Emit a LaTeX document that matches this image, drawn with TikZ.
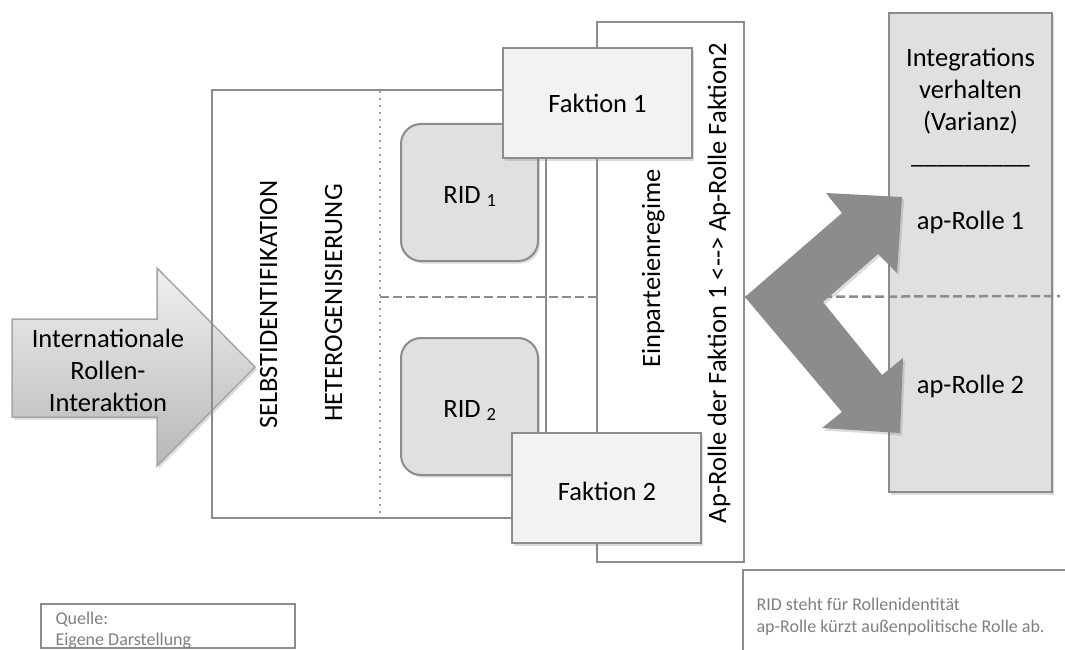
\documentclass[tikz,border=0pt]{standalone}
\usepackage{fontspec}
\setmainfont{Carlito}
\usetikzlibrary{shadows}

\definecolor{edge}{HTML}{8C8C8C}
\definecolor{boxfill}{HTML}{F2F2F2}
\definecolor{ridfill}{HTML}{E0E0E0}
\definecolor{colfill}{HTML}{E0E0E0}
\definecolor{flowgray}{HTML}{8C8C8C}
\definecolor{inedge}{HTML}{A6A6A6}
\definecolor{notegray}{HTML}{7F7F7F}
\definecolor{dotgray}{HTML}{A0A0A0}

\tikzset{
  frame/.style={draw=edge, line width=2pt},
  softshadow/.style={drop shadow={opacity=.28, shadow xshift=2pt, shadow yshift=-2.5pt}},
  fakbox/.style={frame, fill=boxfill, softshadow, minimum width=189pt, minimum height=110pt},
  ridbox/.style={frame, fill=ridfill, rounded corners=20pt, softshadow, minimum width=137pt, minimum height=137pt},
  vlabel/.style={rotate=90, anchor=base},
  hlabel/.style={anchor=base},
  notelabel/.style={anchor=base west, text=notegray, font=\fontsize{18}{22}\selectfont},
  dashline/.style={draw=edge, line width=2.5pt, dash pattern=on 9pt off 4pt},
  dotline/.style={draw=dotgray, line width=2.6pt, dash pattern=on 2.4pt off 4.6pt},
}

\begin{document}
\begin{tikzpicture}[x=1pt, y=-1pt, font=\fontsize{26.5}{32}\selectfont]
\useasboundingbox (0,0) rectangle (1065,650);

% incoming block arrow
\path[draw=inedge, line width=1.5pt, top color=white!94!black, bottom color=white!72!black, softshadow]
  (12,319) -- (157,319) -- (157,268) -- (255,367) -- (157,466) -- (157,417) -- (12,417) -- cycle;
\node[hlabel] (in1) at (108,347) {Internationale};
\node[hlabel] (in2) at (108,379) {Rollen-};
\node[hlabel] (in3) at (108,411) {Interaktion};

% state frame with its two process columns
\node[frame, minimum width=334pt, minimum height=428pt] (state) at (379,304) {};
\draw[dotline] (380,91) -- (380,517);

% regime column
\node[frame, fill=white, minimum width=147pt, minimum height=540pt] (regime) at (670.5,292) {};

% role identities
\node[ridbox] (rid1) at (469.5,192.5) {};
\node[ridbox] (rid2) at (469.5,406.5) {};
\node[hlabel] (rid1t) at (470,203) {RID \textsubscript{1}};
\node[hlabel] (rid2t) at (470,417) {RID \textsubscript{2}};

% factions
\node[fakbox] (fak1) at (597.5,103) {};
\node[fakbox] (fak2) at (606.5,488) {};
\node[hlabel] (fak1t) at (597.5,113) {Faktion 1};
\node[hlabel] (fak2t) at (607,500) {Faktion 2};

\draw[dashline] (380,297) -- (regime.west |- 0,297);

% vertical labels
\node[vlabel] (selbst) at (277,304.5) {SELBSTIDENTIFIKATION};
\node[vlabel] (hetero) at (342,303) {HETEROGENISIERUNG};
\node[vlabel] (einp) at (660,268.5) {Einparteienregime};
\node[vlabel] (aprolle) at (726,283) {Ap-Rolle der Faktion 1 <\mbox{-}\mbox{-}> Ap-Rolle Faktion2};

% outcome column
\node[frame, fill=colfill, softshadow, minimum width=163pt, minimum height=479pt] (outcome) at (970.5,252.5) {};
\node[hlabel] (o1) at (970.5,67) {Integrations};
\node[hlabel] (o2) at (970.5,99) {verhalten};
\node[hlabel] (o3) at (970.5,131) {(Varianz)};
\node[hlabel] (o4) at (970.5,163) {\_\_\_\_\_\_\_\_\_};
\node[hlabel] (ap1) at (970.5,229) {ap-Rolle 1};
\node[hlabel] (ap2) at (970.5,393) {ap-Rolle 2};

% forked arrow from the regime to both roles
\coordinate (fork) at (745,297);
\path[fill=flowgray, softshadow]
  (fork) -- (842,213) -- (826,193) -- (902,197) -- (897,273) -- (878,254)
  -- (823,302) -- (882,375) -- (903,358) -- (900,433) -- (822,428) -- (842,412) -- cycle;
\draw[dashline] (fork) -- (1060,296);

% source note
\node[frame, line width=1.5pt, minimum width=254pt, minimum height=44pt] (src) at (168,626) {};
\node[notelabel] (src1) at (52,624) {Quelle:};
\node[notelabel] (src2) at (52,645) {Eigene Darstellung};

% abbreviations note
\draw[frame, line width=1.5pt] (1065,570) -- (743,570) -- (743,650);
\node[notelabel] (abbr1) at (753,610) {RID steht für Rollenidentität};
\node[notelabel] (abbr2) at (753,632) {ap-Rolle kürzt außenpolitische Rolle ab.};
\end{tikzpicture}
\end{document}
